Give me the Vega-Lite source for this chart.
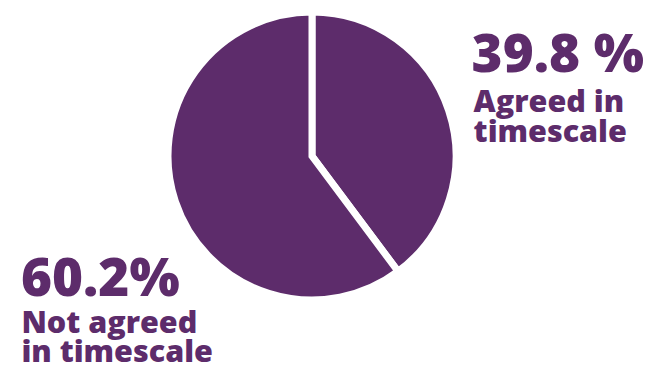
{
  "$schema": "https://vega.github.io/schema/vega-lite/v6.json",
  "width": 624,
  "height": 312,
  "autosize": {"type": "none"},
  "padding": {"left": 0, "top": 0, "right": 25, "bottom": 62},
  "background": "white",
  "config": {"view": {"stroke": null}},
  "data": {
    "values": [
      {"category": "Agreed in timescale", "value": 39.8, "pct": "39.8 %", "desc": "Agreed in\ntimescale"},
      {"category": "Not agreed in timescale", "value": 60.2, "pct": "60.2%", "desc": "Not agreed\nin timescale"}
    ]
  },
  "encoding": {
    "theta": {"field": "value", "type": "quantitative", "stack": true},
    "order": {"field": "category", "sort": "ascending"}
  },
  "layer": [
    {
      "mark": {"type": "arc", "outerRadius": 144, "stroke": "white", "strokeWidth": 7, "strokeJoin": "miter"},
      "encoding": {
        "color": {"field": "category", "type": "nominal", "scale": {"range": ["#5d2c6b", "#5d2c6b"]}, "legend": null}
      }
    },
    {
      "mark": {"type": "text", "radius": 165, "align": "left", "baseline": "alphabetic", "font": "Open Sans", "fontWeight": 800, "fontSize": 53, "color": "#5d2c6b", "dx": 3, "dy": -32.5},
      "encoding": {"text": {"condition": {"test": "datum.category === 'Agreed in timescale'", "field": "pct"}, "value": ""}}
    },
    {
      "mark": {"type": "text", "radius": 165, "align": "left", "baseline": "alphabetic", "font": "Open Sans", "fontWeight": 800, "fontSize": 30.5, "color": "#5d2c6b", "lineBreak": "\n", "lineHeight": 30, "dx": 5, "dy": 7.5},
      "encoding": {"text": {"condition": {"test": "datum.category === 'Agreed in timescale'", "field": "desc"}, "value": ""}}
    },
    {
      "mark": {"type": "text", "radius": 165, "align": "left", "baseline": "alphabetic", "font": "Open Sans", "fontWeight": 800, "fontSize": 53, "color": "#5d2c6b", "dx": -134.5, "dy": 88},
      "encoding": {"text": {"condition": {"test": "datum.category === 'Not agreed in timescale'", "field": "pct"}, "value": ""}}
    },
    {
      "mark": {"type": "text", "radius": 165, "align": "left", "baseline": "alphabetic", "font": "Open Sans", "fontWeight": 800, "fontSize": 30.5, "color": "#5d2c6b", "lineBreak": "\n", "lineHeight": 28.5, "dx": -134, "dy": 125.5},
      "encoding": {"text": {"condition": {"test": "datum.category === 'Not agreed in timescale'", "field": "desc"}, "value": ""}}
    }
  ]
}
